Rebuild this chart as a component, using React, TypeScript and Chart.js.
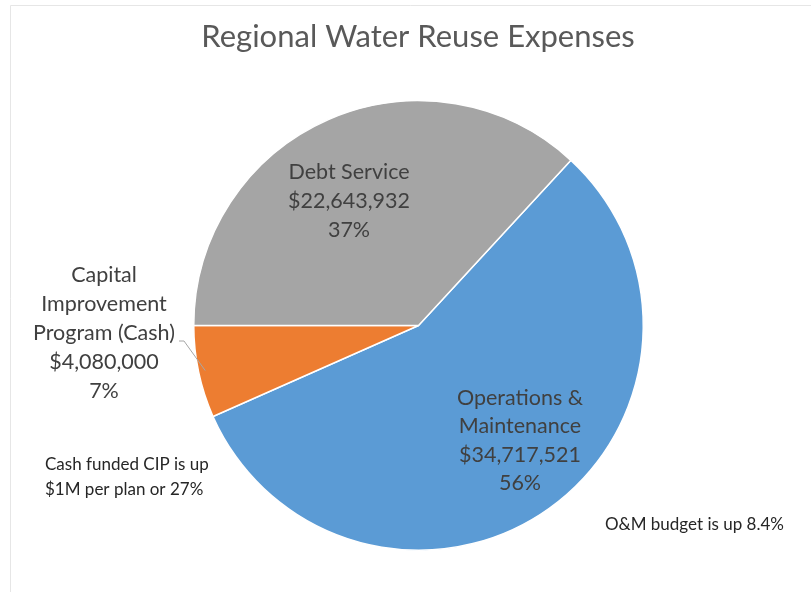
import React, { useEffect, useRef } from "react";
import { Chart, registerables } from "chart.js";

Chart.register(...registerables);

const categories = ["Operations & Maintenance", "Capital Improvement Program (Cash)", "Debt Service"];
const values = [34717521, 4080000, 22643932];
const percentLabels = ["56%", "7%", "37%"];
const colors = ["#5B9BD5", "#ED7D31", "#A5A5A5"];
const titleText = "Regional Water Reuse Expenses";
const noteCIP = ["Cash funded CIP is up", "$1M per plan or 27%"];
const noteOM = ["O&M budget is up 8.4%"];

const FONT = "Lato, 'Open Sans', sans-serif";

const fmt = (v: number) => "$" + v.toLocaleString("en-US");

const labelPlugin = {
  id: "customLabels",
  afterDraw(chart: any) {
    const ctx = chart.ctx as CanvasRenderingContext2D;
    const meta = chart.getDatasetMeta(0);
    ctx.save();
    // frame
    ctx.strokeStyle = "#e6e6e6";
    ctx.lineWidth = 1;
    ctx.beginPath();
    ctx.moveTo(10.5, 592);
    ctx.lineTo(10.5, 5.5);
    ctx.lineTo(811, 5.5);
    ctx.stroke();

    // title
    ctx.fillStyle = "#595959";
    ctx.font = `31px ${FONT}`;
    ctx.textAlign = "center";
    ctx.textBaseline = "middle";
    ctx.fillText(titleText, 418, 37);

    const drawLines = (lines: string[], x: number, y0: number, color: string, size: number, align: CanvasTextAlign, lh: number) => {
      ctx.fillStyle = color;
      ctx.font = `${size}px ${FONT}`;
      ctx.textAlign = align;
      ctx.textBaseline = "middle";
      lines.forEach((t, i) => ctx.fillText(t, x, y0 + i * lh));
    };

    const arcs = meta.data;
    const cx = arcs[0].x;
    const cy = arcs[0].y;
    const R = arcs[0].outerRadius;
    const mid = (i: number) => (arcs[i].startAngle + arcs[i].endAngle) / 2;

    const LS = 21.5;
    // O&M
    drawLines(["Operations &", "Maintenance", fmt(values[0]), percentLabels[0]], 520, 398, "#404040", LS, "center", 28.5);
    // Debt
    drawLines(["Debt Service", fmt(values[2]), percentLabels[2]], 349, 172, "#404040", LS, "center", 29);
    // CIP outside with leader
    {
      const a = mid(1);
      const ex = cx + Math.cos(a) * R * 0.97;
      const ey = cy + Math.sin(a) * R * 0.97;
      ctx.strokeStyle = "#a6a6a6";
      ctx.lineWidth = 1;
      ctx.beginPath();
      ctx.moveTo(ex, ey);
      ctx.lineTo(184, 341);
      ctx.lineTo(179, 341);
      ctx.stroke();
      drawLines(["Capital", "Improvement", "Program (Cash)", fmt(values[1]), percentLabels[1]], 104, 275, "#404040", LS, "center", 29);
    }

    // notes
    drawLines(noteCIP, 45, 465, "#262626", 17, "left", 24.5);
    drawLines(noteOM, 605, 525, "#262626", 17, "left", 24);
    ctx.restore();
  },
};

export default function App() {
  const ref = useRef<HTMLCanvasElement>(null);
  useEffect(() => {
    if (!ref.current) return;
    const chart = new Chart(ref.current, {
      type: "pie",
      data: {
        labels: categories,
        datasets: [
          {
            data: values,
            backgroundColor: colors,
            borderColor: "#ffffff",
            borderWidth: 1.5,
          },
        ],
      },
      options: {
        responsive: false,
        animation: false,
        rotation: 42.7,
        layout: { padding: { left: 193, right: 167, top: 100, bottom: 41 } },
        plugins: {
          legend: { display: false },
          tooltip: { enabled: false },
          title: { display: false },
        },
      },
      plugins: [labelPlugin],
    });
    return () => chart.destroy();
  }, []);
  return (
    <div style={{ position: "absolute", left: 0, top: 0, width: 811, height: 592, background: "#fff" }}>
      <canvas ref={ref} width={811} height={592} style={{ display: "block", width: 811, height: 592 }} />
    </div>
  );
}
